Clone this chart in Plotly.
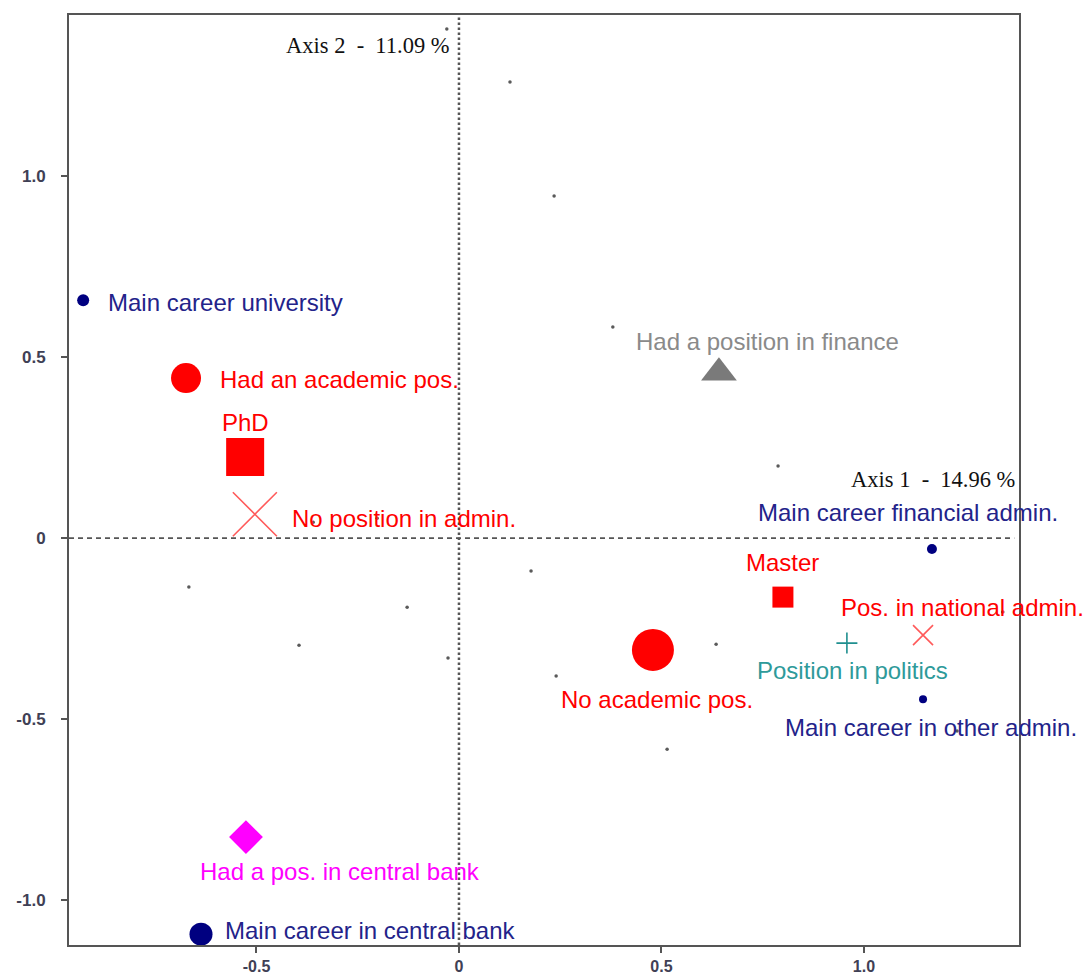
import plotly.graph_objects as go

# ---- data ----
categories = ["Main career university", "Had an academic pos.", "PhD",
              "No position in admin.", "Had a position in finance",
              "Main career financial admin.", "Master", "Pos. in national admin.",
              "Position in politics", "No academic pos.", "Main career in other admin.",
              "Had a pos. in central bank", "Main career in central bank"]
axis1 = [-0.928, -0.674, -0.528, -0.504, 0.642, 1.168, 0.800, 1.146, 0.958, 0.479, 1.146, -0.526, -0.637]
axis2 = [0.657, 0.442, 0.224, 0.066, 0.457, -0.030, -0.163, -0.268, -0.290, -0.309, -0.445, -0.826, -1.094]

ind_x = [-1.054, -0.030, 0.126, 0.235, 0.380, 0.788, -0.667, -0.395, -0.128, -0.027,
         0.178, 0.240, 0.635, 0.514, 1.343, -0.202, -0.360, 1.230]
ind_y = [1.249, 1.406, 1.260, 0.945, 0.583, 0.199, -0.135, -0.296, -0.191, -0.331,
         -0.091, -0.381, -0.293, -0.583, -0.204, 0.055, 0.044, -0.533]

xtick_vals = [-0.5, 0, 0.5, 1.0]
xtick_text = ["-0.5", "0", "0.5", "1.0"]
ytick_vals = [-1.0, -0.5, 0, 0.5, 1.0]
ytick_text = ["-1.0", "-0.5", "0", "0.5", "1.0"]

axis1_title = "Axis 1  -  14.96 %"
axis2_title = "Axis 2  -  11.09 %"

# ---- styles ----
NAVY = "#000080"
NAVY_T = "#23238a"
RED = "#ff0000"
LRED = "#ff5a5a"
TEAL = "#1f8f8f"
TEAL_T = "#2e9a9a"
GRAY = "#7a7a7a"
GRAY_T = "#8a8a8a"
MAG = "#ff00ff"

# symbol, size, marker colour, line width, text colour, xshift, yshift, xanchor
style = {
    "Main career university": ("circle", 12, NAVY, 0, NAVY_T, 23, -2, "left"),
    "Had an academic pos.": ("circle", 30, RED, 0, RED, 32, -1, "left"),
    "PhD": ("square", 38, RED, 0, RED, 0, 35, "center"),
    "No position in admin.": ("x-thin", 44, LRED, 1.6, RED, 35, -4, "left"),
    "Had a position in finance": ("triangle-up", 31, GRAY, 0, GRAY_T, 49, 31, "center"),
    "Main career financial admin.": ("circle", 10, NAVY, 0, NAVY_T, -24, 36, "center"),
    "Master": ("square", 21, RED, 0, RED, 0, 35, "center"),
    "Pos. in national admin.": ("x-thin", 20, LRED, 1.6, RED, 39, 28, "center"),
    "Position in politics": ("cross-thin", 15, TEAL, 1.6, TEAL_T, 6, -27, "center"),
    "No academic pos.": ("circle", 42, RED, 0, RED, 4, -50, "center"),
    "Main career in other admin.": ("circle", 8, NAVY, 0, NAVY_T, 8, -28, "center"),
    "Had a pos. in central bank": ("diamond", 26, MAG, 0, MAG, 94, -34, "center"),
    "Main career in central bank": ("circle", 23, NAVY, 0, NAVY_T, 22, 4, "left"),
}

SANS = "Arial, 'Liberation Sans', sans-serif"
SERIF = "'Times New Roman', 'Liberation Serif', serif"

fig = go.Figure()

# individuals (tiny grey dots)
fig.add_trace(go.Scatter(x=ind_x, y=ind_y, mode="markers",
                         marker=dict(size=3.5, color="#5a5a5a"),
                         cliponaxis=False, hoverinfo="skip", showlegend=False))

# category points
for name, xv, yv in zip(categories, axis1, axis2):
    sym, size, col, lw, tcol, xs, ys, xa = style[name]
    if sym in ("x-thin", "cross-thin"):
        marker = dict(symbol=sym, size=size, color=col, line=dict(color=col, width=lw))
    else:
        marker = dict(symbol=sym, size=size, color=col, line=dict(width=0))
    fig.add_trace(go.Scatter(x=[xv], y=[yv], mode="markers", name=name,
                             marker=marker, cliponaxis=False, showlegend=False))
    fig.add_annotation(x=xv, y=yv, xref="x", yref="y", text=name, showarrow=False,
                       xanchor=xa, yanchor="middle", xshift=xs, yshift=ys,
                       font=dict(family=SANS, size=24, color=tcol))

# zero reference lines
fig.add_shape(type="line", xref="x", yref="paper", x0=0, x1=0, y0=0, y1=1,
              line=dict(color="#555555", width=2.5, dash="2.5px,2.5px"), layer="below")
fig.add_shape(type="line", xref="paper", yref="y", x0=0, x1=0.995, y0=0, y1=0,
              line=dict(color="#555555", width=1.6, dash="5px,4px"), layer="below")

# axis titles as in-plot annotations
fig.add_annotation(x=0, y=1, xref="x", yref="paper", text=axis2_title, showarrow=False,
                   xanchor="right", yanchor="top", xshift=-7, yshift=-16,
                   font=dict(family=SERIF, size=22.5, color="#111111"))
fig.add_annotation(x=1, y=0, xref="paper", yref="y", text=axis1_title, showarrow=False,
                   xanchor="right", yanchor="bottom", xshift=-2, yshift=44,
                   font=dict(family=SERIF, size=22.5, color="#111111"))

axis_common = dict(showline=True, linecolor="#555555", linewidth=2, mirror=True,
                   showgrid=False, zeroline=False, ticks="outside", ticklen=6,
                   tickwidth=1.5, tickcolor="#555555", automargin=False,
                   tickfont=dict(family=SANS, size=17, color="#404055", weight="bold"))

# the page body adds an 8px offset, so the figure is 8px smaller than the window
fig.update_layout(
    width=1083, height=968,
    margin=dict(l=61, r=72, t=7, b=31),
    paper_bgcolor="white", plot_bgcolor="white",
    xaxis=dict(range=[-0.963, 1.383], tickvals=xtick_vals, ticktext=xtick_text,
               ticklabelstandoff=0, **axis_common),
    yaxis=dict(range=[-1.124, 1.445], tickvals=ytick_vals, ticktext=ytick_text,
               ticklabelstandoff=12, **axis_common),
)
fig.update_xaxes(tickfont=dict(size=16))

fig.write_html("out.html")
